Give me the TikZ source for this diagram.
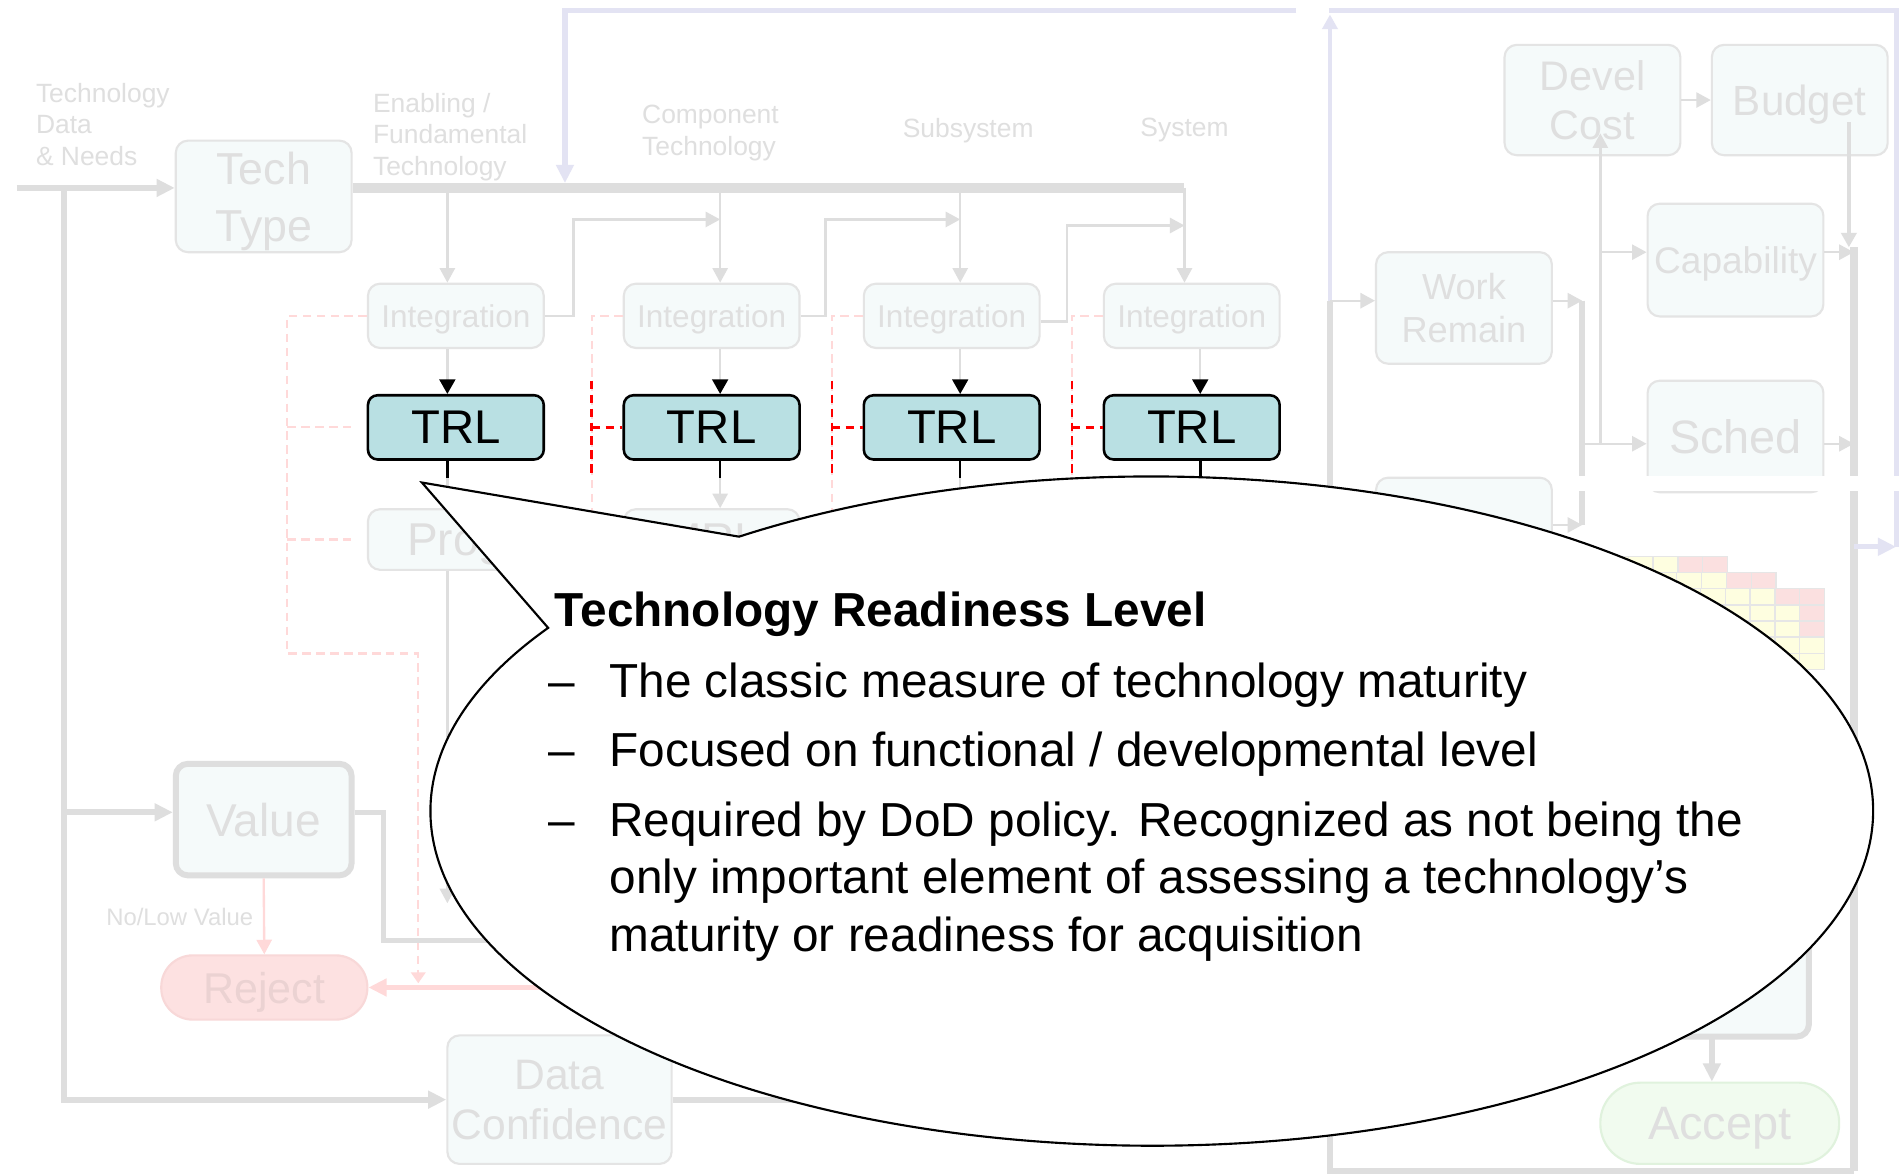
\documentclass[tikz,border=0pt]{standalone}
\usepackage{fontspec}
\setmainfont{Liberation Sans}
\usetikzlibrary{arrows.meta}

\definecolor{fadeline}{HTML}{DEDEDE}
\definecolor{fadetext}{HTML}{DFDFDF}
\definecolor{fadefill}{HTML}{F5FAFA}
\definecolor{fadeedge}{HTML}{E4E4E4}
\definecolor{lavline}{HTML}{E3E3F3}
\definecolor{pinkline}{HTML}{FFD9D9}
\definecolor{trlfill}{HTML}{B9E0E3}
\definecolor{rejfill}{HTML}{FDE1E1}
\definecolor{rejedge}{HTML}{F8D8D8}
\definecolor{rejtext}{HTML}{EBD2D2}
\definecolor{accfill}{HTML}{F1FBEF}
\definecolor{accedge}{HTML}{E0F2DD}
\definecolor{celly}{HTML}{FEFEE0}
\definecolor{cellr}{HTML}{FBE0E0}
\definecolor{celledge}{HTML}{E6E6E6}

\newcommand{\setsz}[2]{\fontsize{#1pt}{#2pt}\selectfont}

\begin{document}
\begin{tikzpicture}[
    x=0.1mm, y=-0.1mm,
    box/.style={
        draw=fadeedge,
        fill=fadefill,
        rectangle,
        rounded corners=1mm,
        line width=0.5pt,
        inner sep=0pt,
        align=center,
        text=fadetext,
        text depth=0pt,
        minimum width=14.5mm,
        minimum height=9.2mm
    },
    stage/.style={box, minimum height=5.3mm, font=\setsz{7.4}{9}},
    trl/.style={
        box,
        draw=black,
        fill=trlfill,
        text=black,
        line width=0.6pt,
        rounded corners=0.8mm,
        minimum height=5.3mm,
        font=\setsz{11.1}{13}
    },
    heavy/.style={box, draw=fadeline, line width=1.4pt},
    lbl/.style={anchor=north west, inner sep=0pt, align=left, text=fadetext, font=\setsz{6.2}{7.4}},
    wire/.style={draw=fadeline, line width=0.55pt},
    pipe/.style={draw=fadeline, line width=1.4pt},
    bar/.style={draw=fadeline, line width=2.3pt},
    lav/.style={draw=lavline, line width=1.2pt},
    pinkwire/.style={draw=pinkline, line width=0.55pt},
    pinkpipe/.style={draw=pinkline, line width=1.1pt},
    pinkdash/.style={draw=pinkline, line width=0.5pt, dash pattern=on 0.7mm off 0.45mm},
    reddash/.style={draw=red, line width=0.55pt, dash pattern=on 0.7mm off 0.45mm},
    arrow/.style={-{Triangle[length=1.2mm, width=1.25mm]}},
    bigarrow/.style={-{Triangle[length=1.5mm, width=1.4mm]}},
    smallarrow/.style={-{Triangle[length=0.9mm, width=1.2mm]}},
    blackarrow/.style={-{Triangle[length=1.2mm, width=1.3mm, color=black]}},
    callout/.style={draw=black, fill=white, line width=0.5pt},
    say/.style={anchor=base west, inner sep=0pt, font=\setsz{11.2}{13.4}}
]

\useasboundingbox (0,0) rectangle (1568,968);
\fill[white] (0,0) rectangle (1568,968);

% ===== Labels =====
\node[lbl] (lblIn) at (29,68)  {Technology\\Data\\\& Needs};
\node[lbl] (lblEn) at (307,76) {Enabling /\\Fundamental\\Technology};
\node[lbl] (lblCo) at (529,86) {Component\\Technology};
\node[lbl] (lblSu) at (744,97) {Subsystem};
\node[lbl] (lblSy) at (940,97) {System};

% ===== Left column =====
\node[box, font=\setsz{10.5}{13.4}] (tech) at (217.5,162) {Tech\\Type};
\node[heavy, font=\setsz{10.8}{13}] (value) at (217.5,676) {Value};
\node[box, fill=rejfill, draw=rejedge, text=rejtext, rounded corners=2.6mm,
      minimum width=17mm, minimum height=5.3mm, font=\setsz{10.1}{12}] (reject) at (218,814.5) {Reject};
\node[box, minimum width=18.5mm, minimum height=10.6mm, font=\setsz{10}{11.7}] (datac) at (461.5,907) {Data\\Confidence};
\node[anchor=base west, inner sep=0pt, text=fadetext, font=\setsz{5.6}{7}] (lblNo) at (87,763) {No/Low Value};

% ===== Row 1: Integration =====
\node[stage] (intA) at (376,260.5) {Integration};
\node[stage] (intB) at (587,260.5) {Integration};
\node[stage] (intC) at (785,260.5) {Integration};
\node[stage] (intD) at (983,260.5) {Integration};

% ===== Row 2: TRL =====
\node[trl] (trlA) at (376,352.5) {TRL};
\node[trl] (trlB) at (587,352.5) {TRL};
\node[trl] (trlC) at (785,352.5) {TRL};
\node[trl] (trlD) at (983,352.5) {TRL};

% ===== Row 3 =====
\node[box, minimum height=5mm, font=\setsz{10.8}{13}] (prog) at (376,445) {Prog};
\node[box, minimum height=5mm, font=\setsz{10.8}{13}] (mrl)  at (587,445) {MRL};

% ===== Right side =====
\node[box, minimum height=9.1mm, font=\setsz{9.7}{11.7}] (devel)  at (1313.5,82.5) {Devel\\Cost};
\node[box, minimum height=9.1mm, font=\setsz{9.9}{12}]   (budget) at (1484.5,82.5) {Budget};
\node[box, font=\setsz{8.5}{10.2}]                       (work)   at (1207.5,254)  {Work\\Remain};
\node[box, minimum height=9.3mm, font=\setsz{8.7}{10}]   (capab)  at (1431.5,214.5) {Capability};
\node[box, font=\setsz{11}{13}]                          (sched)  at (1431.5,360)  {Sched};

% ===== Input arrows =====
\coordinate (inL) at (14,155);
\coordinate (trunkT) at (53,155);
\coordinate (trunkB) at (53,907);
\coordinate (valIn) at (53,670);
\draw[pipe, bigarrow] (inL) -- (inL -| tech.west);
\draw[pipe, bigarrow] (trunkT) -- (trunkB) -- (datac.west);
\draw[pipe, bigarrow] (valIn) -- (valIn -| value.west);

% ===== Main bar and feedback =====
\coordinate (barR) at (977,155);
\draw[bar] (tech.east |- barR) -- (barR);
\coordinate (lavA) at (466,9);
\coordinate (lavB) at (1069,9);
\coordinate (lavC) at (1096,9);
\coordinate (lavD) at (1564,9);
\coordinate (lavE) at (1564,451);
\draw[lav, bigarrow, shorten >=0.4mm] (lavB) -- (lavA) -- (lavA |- barR);
\draw[lav] (lavC) -- (lavD) -- (lavE);

% ===== Column drops =====
\coordinate (colA) at (369,155);
\coordinate (colB) at (594,155);
\coordinate (colC) at (792,155);
\coordinate (colD) at (977,155);
\coordinate (colDl) at (990,155);
\draw[wire, arrow] (colA) -- (colA |- intA.north);
\draw[wire, arrow] (colB) -- (colB |- intB.north);
\draw[wire, arrow] (colC) -- (colC |- intC.north);
\draw[wire, arrow] (colD) -- (colD |- intD.north);

% ===== Step links =====
\coordinate (stpA) at (473,181);
\coordinate (stpB) at (681,181);
\coordinate (stpC) at (880,186);
\draw[wire, arrow] (intA.east) -| (stpA) -- (stpA -| colB);
\draw[wire, arrow] (intB.east) -| (stpB) -- (stpB -| colC);
\draw[wire, arrow] ([yshift=-1.3pt]intC.east) -| (stpC) -- (stpC -| colD);

% ===== Integration to TRL =====
\draw[wire, blackarrow] (colA |- intA.south) -- (colA |- trlA.north);
\draw[wire, blackarrow] (colB |- intB.south) -- (colB |- trlB.north);
\draw[wire, blackarrow] (colC |- intC.south) -- (colC |- trlC.north);
\draw[wire, blackarrow] (colDl |- intD.south) -- (colDl |- trlD.north);

% ===== Below TRL =====
\coordinate (colAend) at (369,745);
\draw[wire, arrow] (colA |- trlA.south) -- (colA |- prog.north);
\draw[wire, arrow] (colB |- trlB.south) -- (colB |- mrl.north);
\draw[wire] (colC |- trlC.south) -- ++(0,60);
\draw[wire] (colDl |- trlD.south) -- ++(0,60);
\draw[wire, arrow] (colA |- prog.south) -- (colAend);
\draw[black, line width=0.6pt] (colA |- trlA.south) -- ++(0,14);
\draw[black, line width=0.6pt] (colB |- trlB.south) -- ++(0,14);
\draw[black, line width=0.6pt] (colC |- trlC.south) -- ++(0,14);
\draw[black, line width=0.6pt] (colDl |- trlD.south) -- ++(0,14);

% ===== Dashed links =====
\coordinate (pkA) at (237,539);
\coordinate (pkB) at (345,811);
\coordinate (pkC) at (488,440);
\coordinate (pkD) at (686,440);
\coordinate (pkE) at (884,440);
\draw[pinkdash, smallarrow] (intA.west) -| (pkA) -| (pkB);
\draw[pinkdash, shorten >=1.3mm] (pkA |- trlA.west) -- (trlA.west);
\draw[pinkdash, shorten >=1.3mm] (pkA |- prog.west) -- (prog.west);
\draw[pinkdash] (intB.west) -| (pkC);
\draw[pinkdash] (intC.west) -| (pkD);
\draw[pinkdash] (intD.west) -| (pkE);
\coordinate (rdC) at (488,314);
\coordinate (rdD) at (686,314);
\coordinate (rdE) at (884,314);
\draw[reddash] (rdC) -- ++(0,79) (rdC |- trlB.west) -- (trlB.west);
\draw[reddash] (rdD) -- ++(0,79) (rdD |- trlC.west) -- (trlC.west);
\draw[reddash] (rdE) -- ++(0,79) (rdE |- trlD.west) -- (trlD.west);

% ===== Value / Reject =====
\coordinate (valTurn) at (316,776);
\coordinate (valEnd) at (420,776);
\coordinate (rejR) at (470,814.5);
\coordinate (dcOut) at (680,907);
\draw[pipe, line width=1.2pt] (value.east |- valIn) -| (valTurn) -- (valEnd);
\draw[pinkwire, arrow] (value.south) -- (reject.north);
\draw[pinkpipe, bigarrow] (rejR) -- (reject.east);
\draw[pipe] (datac.east) -- (dcOut);

% ===== Right side links =====
\coordinate (gvT) at (1097,248);
\coordinate (gvB) at (1097,966);
\coordinate (gbR) at (1529,966);
\coordinate (rvT) at (1529,204);
\coordinate (wvT) at (1305,248);
\coordinate (wvB) at (1305,433);
\coordinate (schIn) at (1305,366);
\coordinate (dvB) at (1320,366);
\coordinate (dvT) at (1320,110);
\coordinate (capIn) at (1320,208);
\coordinate (budOut) at (1525,101);
\draw[pipe] (gvT) -- (gvB) -- (gbR);
\draw[lav, line width=0.8pt, arrow, shorten >=0.3mm] (gvT) -- (gvT |- lavC);
\draw[wire, arrow] (gvT) -- (gvT -| work.west);
\draw[wire, arrow] (gvT -| work.east) -- (wvT);
\draw[pipe] (wvT) -- (wvB);
\draw[wire, arrow] (schIn) -- (schIn -| sched.west);
\draw[wire, arrow] (dvB) -- (dvT);
\draw[wire, arrow] (capIn) -- (capIn -| capab.west);
\draw[wire, arrow] (devel.east) -- (budget.west);
\draw[wire, line width=0.9pt, arrow] (budOut) -- (budOut |- rvT);
\draw[wire, arrow] (capIn -| capab.east) -- (capIn -| rvT);
\draw[wire, arrow] (schIn -| sched.east) -- (schIn -| rvT);
\draw[pipe, line width=1.8pt] (rvT) -- (gbR);
\draw[lav, bigarrow] (rvT |- lavE) -- (lavE);

\fill[white] (1135,393) rectangle (1568,405);

% ===== Lower right =====
\node[box, minimum height=7.6mm] (lowbox) at (1207.5,432) {};
\draw[wire, arrow] (lowbox.east |- wvB) -- (wvB);
\node[heavy, minimum width=34.2mm, minimum height=29.5mm] (risk) at (1321,707.5) {};
\foreach \r/\e/\n in {0/1425/2, 1/1465/2, 2/1505/2, 3/1505/1, 4/1505/1, 5/1505/0, 6/1505/0} {
  \foreach \c in {0,...,7} {
    \pgfmathsetmacro{\xb}{\e-20.5*\c}
    \pgfmathsetmacro{\yt}{459+13.3*\r}
    \ifnum\c<\n \def\cc{cellr}\else\def\cc{celly}\fi
    \draw[draw=celledge, line width=0.3pt, fill=\cc] (\xb-20.5,\yt) rectangle (\xb,\yt+13.3);
  }
}
\node[box, fill=accfill, draw=accedge, rounded corners=3.3mm, minimum width=19.7mm,
      minimum height=6.7mm, font=\setsz{11}{13}] (accept) at (1418.5,926.5) {Accept};
\coordinate (accIn) at (1412,855);
\draw[pipe, line width=1.25pt, bigarrow] (accIn) -- (accIn |- accept.north);

% ===== Callout =====
\coordinate (bubc) at (950,669);
\coordinate (tip) at (348,398);
\draw[callout] (bubc) ++(-124.9:595 and 276)
    arc[start angle=-124.9, end angle=213.2, x radius=595, y radius=276]
    -- (tip) -- cycle;

\node[say, font=\setsz{11.2}{13.4}\bfseries] (ttl) at (457,517) {Technology Readiness Level};
\node[say] (dA) at (452,575) {–};
\node[say] (bA) at (502,575) {The classic measure of technology maturity};
\node[say] (dB) at (452,632) {–};
\node[say] (bB) at (502,632) {Focused on functional / developmental level};
\node[say] (dC) at (452,690) {–};
\node[say, anchor=north west, align=left] (bC) at (502,661)
    {Required by DoD policy. Recognized as not being the\\only important element of assessing a technology’s\\maturity or readiness for acquisition};

\end{tikzpicture}
\end{document}
